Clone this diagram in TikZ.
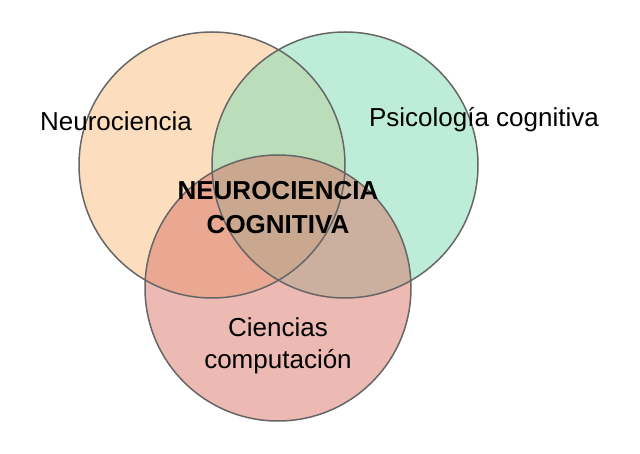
\documentclass[tikz,border=0pt]{standalone}
\usepackage{fontspec}
\setmainfont{Liberation Sans}
\definecolor{cL}{HTML}{FBBF80}
\definecolor{cR}{HTML}{7CDDB4}
\definecolor{cB}{HTML}{DA7468}
\begin{document}
\begin{tikzpicture}[x=1pt,y=-1pt,
  lbl/.style={font=\fontsize{26}{32}\selectfont,align=center}]
\useasboundingbox[fill=white] (0,0) rectangle (640,454);
\fill[cL,fill opacity=0.5] (212,165) circle (133);
\fill[cR,fill opacity=0.5] (345,165) circle (133);
\fill[cB,fill opacity=0.5] (278,288) circle (133);
\draw[black!60,line width=1.5pt] (212,165) circle (133) (345,165) circle (133) (278,288) circle (133);
\node[lbl] (n) at (116,121) {Neurociencia};
\node[lbl] (p) at (484,120) {Psicología cognitiva};
\node[lbl] (c) at (278,346) {Ciencias\\computación};
\node[lbl,font=\fontsize{26}{34}\selectfont\bfseries] (nc) at (278,208) {NEUROCIENCIA\\COGNITIVA};
\end{tikzpicture}
\end{document}
